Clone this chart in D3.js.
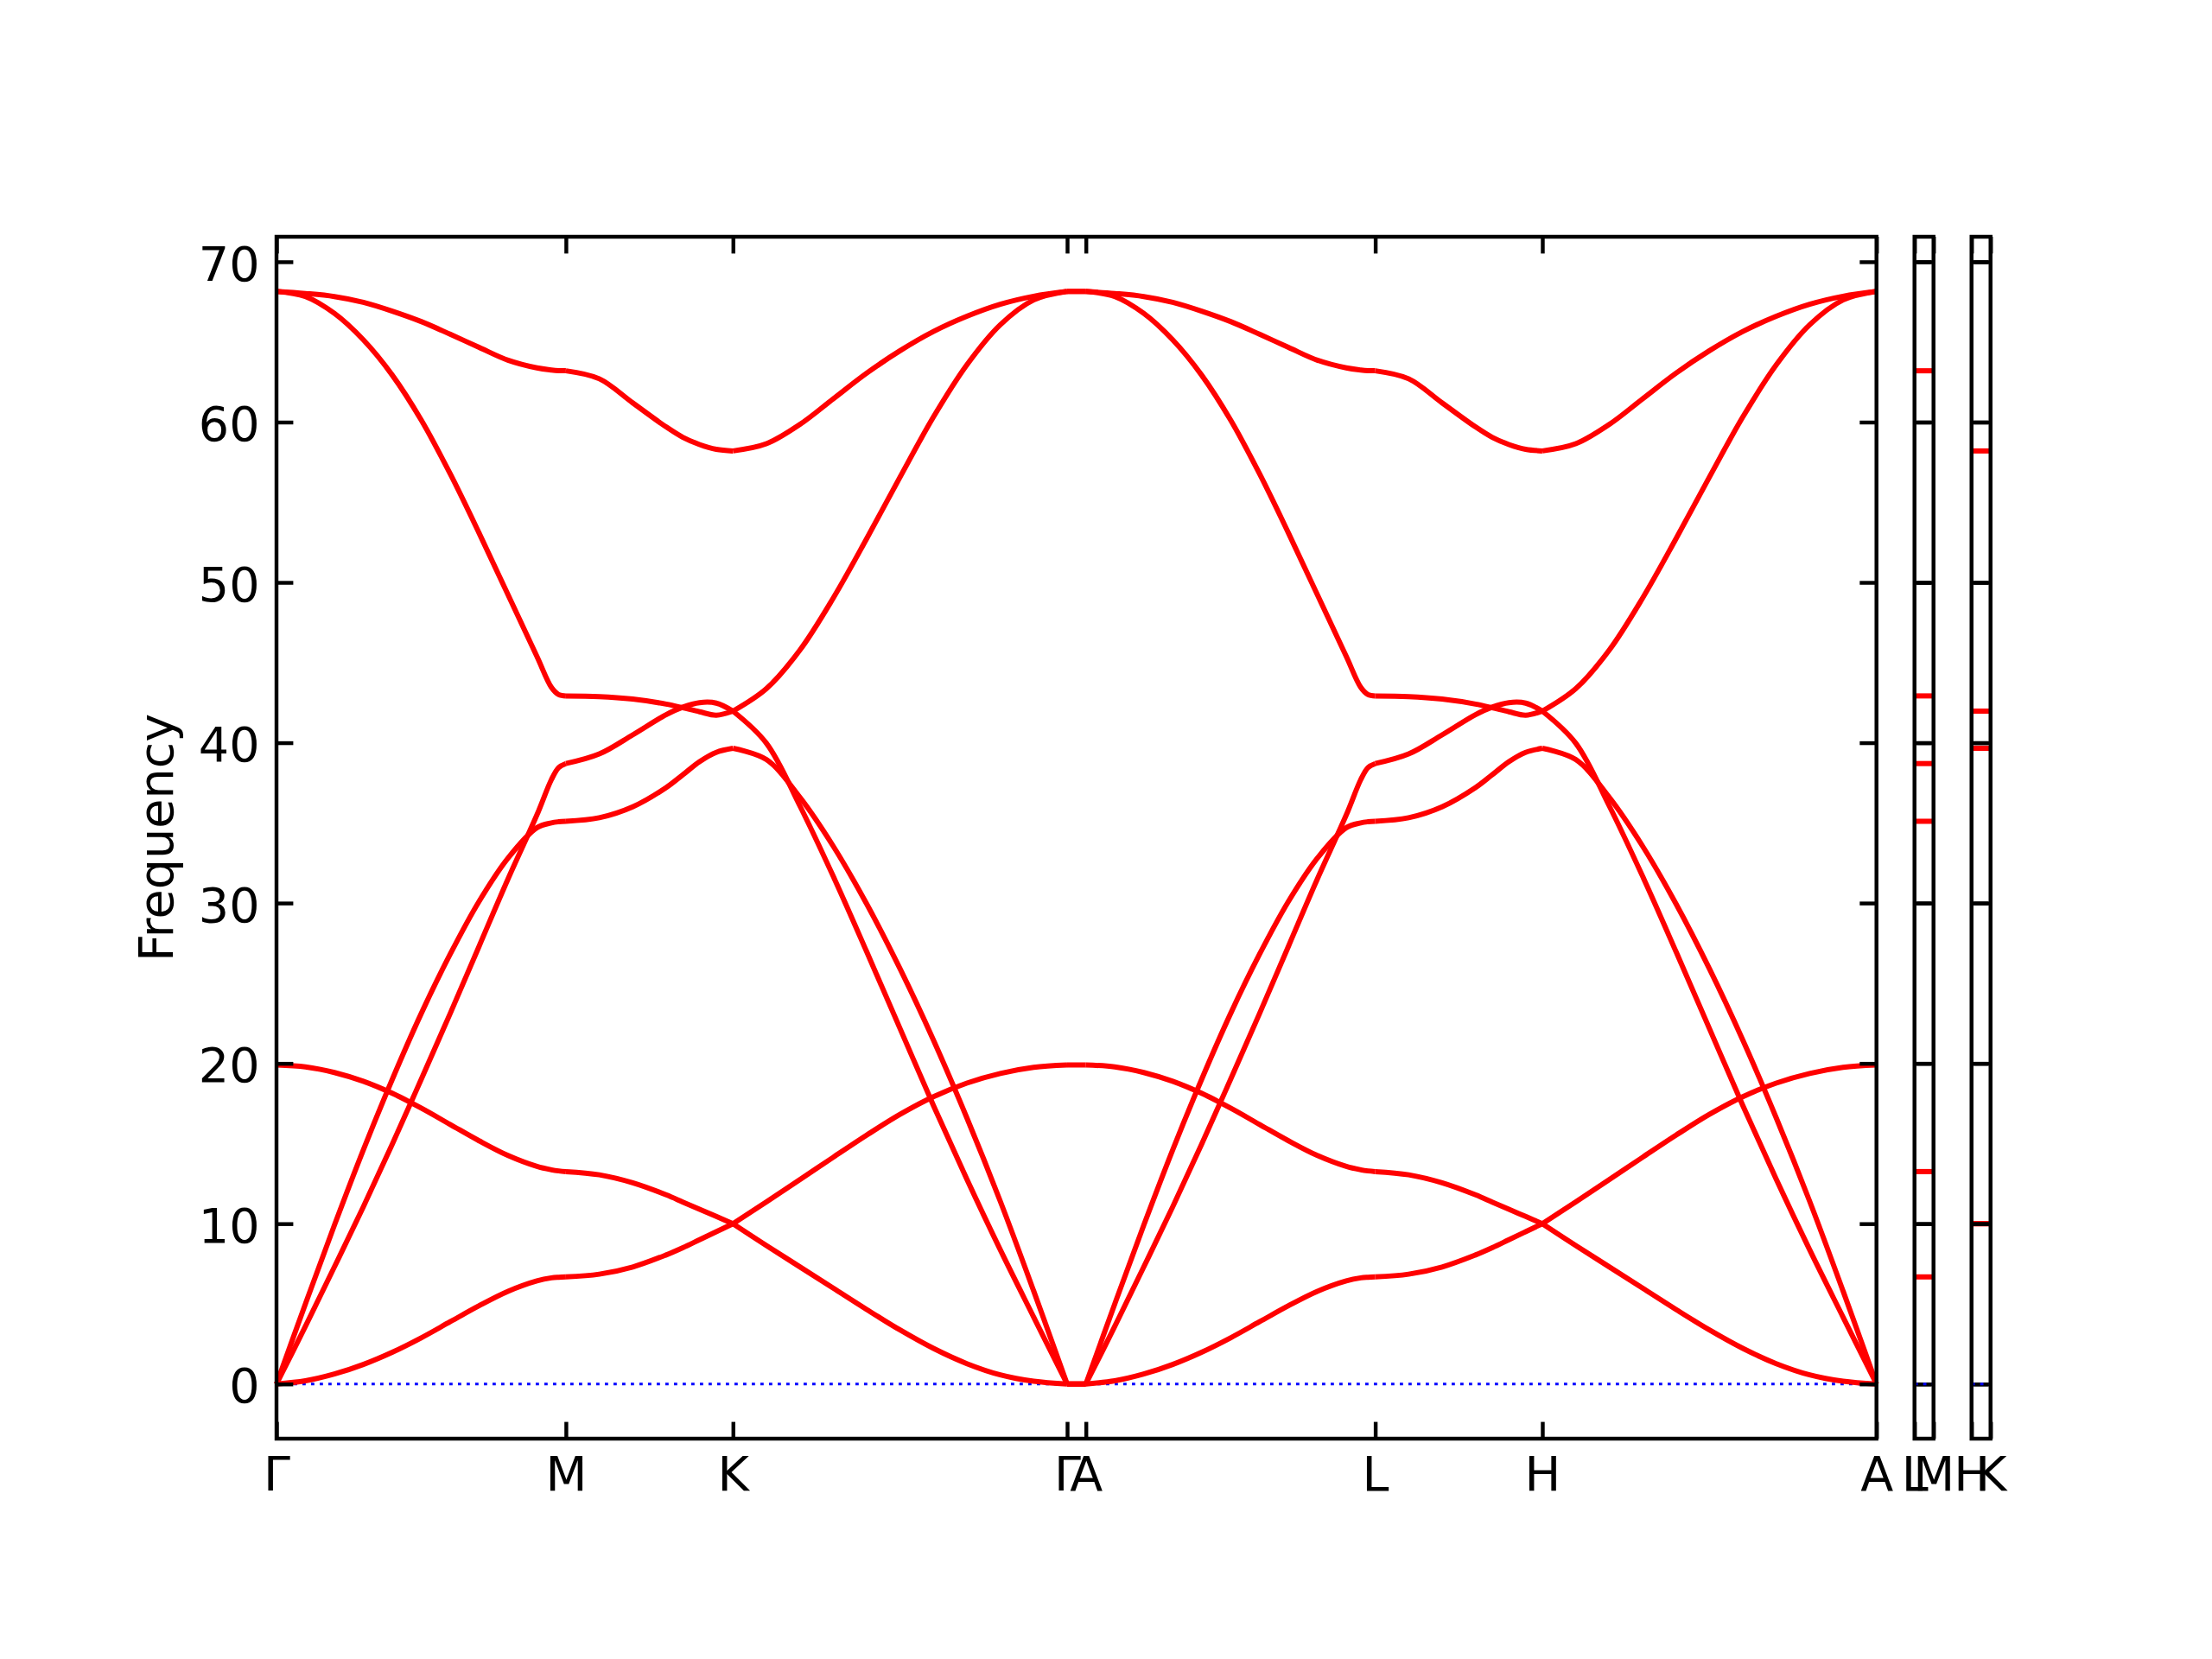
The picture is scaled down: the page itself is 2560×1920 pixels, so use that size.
<!DOCTYPE html>
<html><head><meta charset="utf-8">
<script src="https://cdn.jsdelivr.net/npm/d3@7"></script>
<style>html,body{margin:0;padding:0;background:#fff;} svg{display:block;}</style>
</head><body>
<script>
// ---------- data ----------
const kLabels = ["Γ","M","K","Γ","A","L","H","A"];
const kPos = [0, 1.0, 1.5774, 2.7321, 2.7969, 3.7969, 4.3743, 5.5290];
const side1Labels = ["L","M"];
const side2Labels = ["H","K"];
const sidePos = [0, 0.0648];
const yTicks = [0,10,20,30,40,50,60,70];
const yDomain = [-3.41, 71.56];

// sample positions (fraction along each segment)
const tGM = [0, 0.1, 0.2, 0.3, 0.4, 0.5, 0.6, 0.7, 0.8, 0.9, 0.95, 0.975, 1.0];
const tMK = [0, 0.2, 0.4, 0.6, 0.7, 0.8, 0.9, 1.0];
const tKG = [0, 0.1, 0.2, 0.3, 0.4, 0.5, 0.6, 0.7, 0.8, 0.9, 1.0];

// Γ-M (same values along A-L)
const opt1GM = [68.15, 68.02, 67.83, 67.47, 66.92, 66.27, 65.48, 64.66, 63.86, 63.38, 63.25, 63.21, 63.2];
const opt2GM = [68.15, 67.83, 66.78, 65.13, 62.93, 60.13, 56.78, 53.08, 49.23, 45.38, 43.45, 43.0, 42.92];
const acAGM  = [0, 5.0, 9.9, 14.6, 19.0, 23.1, 26.8, 30.1, 32.8, 34.7, 35.0, 35.07, 35.1];
const acBGM  = [0, 3.6, 7.3, 11.05, 14.95, 19.0, 23.1, 27.3, 31.5, 35.5, 37.7, 38.45, 38.7];
const zoGM   = [19.9, 19.78, 19.43, 18.88, 18.13, 17.21, 16.19, 15.17, 14.25, 13.57, 13.36, 13.29, 13.25];
const zaGM   = [0, 0.2, 0.62, 1.22, 1.98, 2.88, 3.88, 4.88, 5.78, 6.43, 6.62, 6.66, 6.68];

// M-K (same values along L-H)
const opt1MK = [63.2, 62.7, 61.2, 59.7, 59.05, 58.6, 58.3, 58.2];
const opt2MK = [42.92, 42.88, 42.72, 42.41, 42.18, 41.93, 41.72, 41.97];
const acAMK  = [35.1, 35.32, 36.0, 37.2, 38.0, 38.82, 39.4, 39.65];
const acBMK  = [38.7, 39.3, 40.49, 41.75, 42.22, 42.5, 42.47, 41.97];
const zoMK   = [13.25, 13.05, 12.55, 11.8, 11.35, 10.9, 10.45, 10.0];
const zaMK   = [6.68, 6.85, 7.3, 8.05, 8.5, 9.0, 9.5, 10.0];

// K-Γ (same values along H-A)
const opt1KG = [58.2, 58.65, 59.85, 61.45, 63.05, 64.45, 65.65, 66.6, 67.35, 67.85, 68.15];
const opt2KG = [41.97, 43.37, 45.77, 49.02, 52.72, 56.57, 60.32, 63.57, 66.07, 67.62, 68.15];
const acAKG  = [39.65, 38.95, 36.6, 33.55, 29.95, 25.9, 21.45, 16.6, 11.4, 5.8, 0];
const acBKG  = [41.97, 39.97, 36.07, 31.67, 26.97, 22.17, 17.37, 12.77, 8.37, 4.17, 0];
const zoKG   = [10.0, 11.36, 12.74, 14.14, 15.52, 16.82, 17.92, 18.77, 19.37, 19.75, 19.9];
const zaKG   = [10.0, 8.64, 7.31, 5.98, 4.65, 3.37, 2.22, 1.27, 0.57, 0.17, 0];

// Γ-A, L-M, H-K are flat
const gammaVals = [68.15, 68.15, 0, 0, 19.9, 0];
const mVals = [63.2, 42.92, 35.1, 38.7, 13.25, 6.68];
const kVals = [58.2, 41.97, 39.65, 41.97, 10.0, 10.0];

// ---------- layout ----------
const W = 2560, H = 1920;
const plotTop = 274, plotBottom = 1665;
const mainL = 320, mainR = 2171.7;
const panels = [[2215.7, 2237.7], [2281.7, 2303.7]];
const FS = 55.6, LW = 4.44, TL = 19.4;
const RED = "#ff0000", LINEW = 6;

const svg = d3.select("body").append("svg").attr("width", W).attr("height", H)
  .style("background", "#fff");

const y = d3.scaleLinear().domain(yDomain).range([plotBottom, plotTop]);
const x = d3.scaleLinear().domain([kPos[0], kPos[kPos.length-1]]).range([mainL, mainR]);

function lineGen(xs) {
  return d3.line().x(d => xs(d[0])).y(d => y(d[1])).curve(d3.curveCatmullRom.alpha(0.5));
}

function styleAxis(g) {
  g.attr("font-size", FS).attr("font-family", "DejaVu Sans");
  g.select(".domain").remove();
  g.selectAll(".tick line").attr("stroke", "#000").attr("stroke-width", LW);
  g.selectAll(".tick text").attr("fill", "#000");
}

function zeroLine(g, xs, d0, d1) {
  g.append("line").attr("x1", xs(d0)).attr("x2", xs(d1))
    .attr("y1", y(0)).attr("y2", y(0))
    .attr("stroke", "#0000ff").attr("stroke-width", 3.2)
    .attr("stroke-dasharray", "3.8 6.2");
}

// ---------- main panel ----------
const gMain = svg.append("g");
zeroLine(gMain, x, kPos[0], kPos[7]);

const segments = [
  [kPos[0], kPos[1], tGM, [opt1GM, opt2GM, acAGM, acBGM, zoGM, zaGM]],
  [kPos[1], kPos[2], tMK, [opt1MK, opt2MK, acAMK, acBMK, zoMK, zaMK]],
  [kPos[2], kPos[3], tKG, [opt1KG, opt2KG, acAKG, acBKG, zoKG, zaKG]],
  [kPos[3], kPos[4], [0, 1], gammaVals.map(v => [v, v])],
  [kPos[4], kPos[5], tGM, [opt1GM, opt2GM, acAGM, acBGM, zoGM, zaGM]],
  [kPos[5], kPos[6], tMK, [opt1MK, opt2MK, acAMK, acBMK, zoMK, zaMK]],
  [kPos[6], kPos[7], tKG, [opt1KG, opt2KG, acAKG, acBKG, zoKG, zaKG]]
];
const lm = lineGen(x);
segments.forEach(([p0, p1, t, bands]) => {
  bands.forEach(vals => {
    const pts = t.map((tt, i) => [p0 + tt * (p1 - p0), vals[i]]);
    gMain.append("path").attr("d", lm(pts)).attr("fill", "none")
      .attr("stroke", RED).attr("stroke-width", LINEW)
      .attr("stroke-linejoin", "round").attr("stroke-linecap", "butt");
  });
});

gMain.append("g").attr("transform", `translate(${mainL},0)`)
  .call(d3.axisLeft(y).tickValues(yTicks).tickSize(-TL).tickPadding(TL).tickFormat(d3.format("d")))
  .call(styleAxis)
  .selectAll(".tick text").attr("dy", "0.38em");
gMain.append("g").attr("transform", `translate(${mainR},0)`)
  .call(d3.axisRight(y).tickValues(yTicks).tickSize(-TL).tickFormat(""))
  .call(styleAxis);
gMain.append("g").attr("transform", `translate(0,${plotTop})`)
  .call(d3.axisTop(x).tickValues(kPos).tickSize(-TL).tickFormat(""))
  .call(styleAxis);
gMain.append("g").attr("transform", `translate(0,${plotBottom})`)
  .call(d3.axisBottom(x).tickValues(kPos).tickSize(-TL).tickPadding(20.5).tickFormat((d, i) => kLabels[i]))
  .call(styleAxis);
gMain.append("rect").attr("x", mainL).attr("y", plotTop)
  .attr("width", mainR - mainL).attr("height", plotBottom - plotTop)
  .attr("fill", "none").attr("stroke", "#000").attr("stroke-width", LW);

// y label
svg.append("text").attr("transform", `translate(200,${(plotTop + plotBottom) / 2}) rotate(-90)`)
  .attr("text-anchor", "middle").attr("font-family", "DejaVu Sans").attr("font-size", FS)
  .attr("fill", "#000").text("Frequency");

// ---------- side panels ----------
[[panels[0], side1Labels, mVals], [panels[1], side2Labels, kVals]].forEach(([rng, labs, vals]) => {
  const xs = d3.scaleLinear().domain([sidePos[0], sidePos[1]]).range(rng);
  const g = svg.append("g");
  const lf = lineGen(xs);
  vals.forEach(v => {
    g.append("path").attr("d", lf([[sidePos[0], v], [sidePos[1], v]]))
      .attr("fill", "none").attr("stroke", RED).attr("stroke-width", LINEW);
  });
  g.append("g").attr("transform", `translate(${rng[0]},0)`)
    .call(d3.axisLeft(y).tickValues(yTicks).tickSize(-TL).tickFormat("")).call(styleAxis);
  g.append("g").attr("transform", `translate(${rng[1]},0)`)
    .call(d3.axisRight(y).tickValues(yTicks).tickSize(-TL).tickFormat("")).call(styleAxis);
  g.append("g").attr("transform", `translate(0,${plotTop})`)
    .call(d3.axisTop(xs).tickValues(sidePos).tickSize(-TL).tickFormat("")).call(styleAxis);
  g.append("g").attr("transform", `translate(0,${plotBottom})`)
    .call(d3.axisBottom(xs).tickValues(sidePos).tickSize(-TL).tickPadding(20.5).tickFormat((d, i) => labs[i]))
    .call(styleAxis);
  zeroLine(g, xs, sidePos[0], sidePos[1]);
  g.append("rect").attr("x", rng[0]).attr("y", plotTop)
    .attr("width", rng[1] - rng[0]).attr("height", plotBottom - plotTop)
    .attr("fill", "none").attr("stroke", "#000").attr("stroke-width", LW);
});
</script>
</body></html>
